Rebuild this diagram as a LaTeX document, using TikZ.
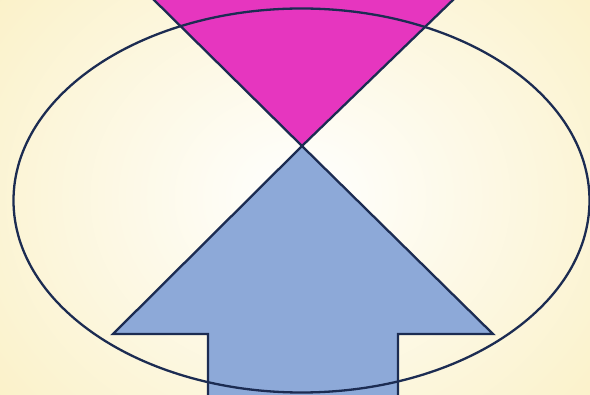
\documentclass[tikz,border=0pt]{standalone}
\usetikzlibrary{shadings}
\definecolor{bgyellow}{HTML}{FAF0C4}
\definecolor{magentafill}{HTML}{E636BF}
\definecolor{bluefill}{HTML}{8DA9D8}
\definecolor{outline}{HTML}{1C2C52}
\tikzset{
  shapeline/.style={draw=outline, line width=2.3pt, line join=miter},
}
\begin{document}
\begin{tikzpicture}[x=1pt,y=-1pt]
  \useasboundingbox (0,0) rectangle (590,395);
  \clip (0,0) rectangle (590,395);
  % background
  \fill[bgyellow] (0,0) rectangle (590,395);
  \shade[inner color=white, outer color=bgyellow] (-120,-160) rectangle (720,555);
  % magenta triangle
  \filldraw[shapeline, fill=magentafill]
    (152,-2) -- (302,146) -- (455,-2) -- cycle;
  % blue arrow
  \filldraw[shapeline, fill=bluefill]
    (302,146) -- (493,334) -- (398,334) -- (398,400) -- (208,400) -- (208,334) -- (113,334) -- cycle;
  % ellipse
  \draw[outline, line width=2.3pt] (301.5,200.5) ellipse [x radius=288, y radius=192];
\end{tikzpicture}
\end{document}
